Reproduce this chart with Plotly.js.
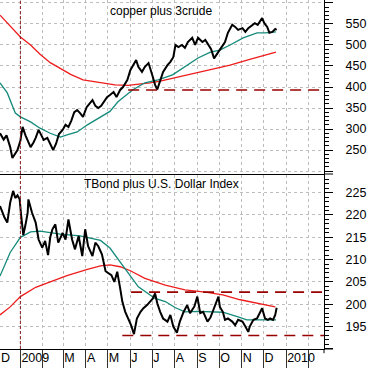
<!DOCTYPE html>
<html><head><meta charset="utf-8">
<script src="https://cdn.plot.ly/plotly-3.0.1.min.js"></script>
<style>html,body{margin:0;padding:0;background:#fff}#chart{width:371px;height:369px}</style>
</head><body><div id="chart"></div>
<script>
// ---- data ----
const topTitle = 'copper plus 3crude';
const bottomTitle = 'TBond plus U.S. Dollar Index';

const topPriceDates = ['2008-12-04','2008-12-09','2008-12-13','2008-12-16','2008-12-18','2008-12-21','2008-12-24','2008-12-28',
 '2009-01-01','2009-01-04','2009-01-08','2009-01-11','2009-01-15','2009-01-19','2009-01-22','2009-01-26','2009-01-30',
 '2009-02-02','2009-02-07','2009-02-11','2009-02-15','2009-02-19','2009-02-23','2009-02-28',
 '2009-03-04','2009-03-08','2009-03-12','2009-03-16','2009-03-20','2009-03-24','2009-03-28',
 '2009-04-02','2009-04-06','2009-04-10','2009-04-14','2009-04-18','2009-04-22','2009-04-26','2009-04-30',
 '2009-05-04','2009-05-09','2009-05-13','2009-05-18','2009-05-22','2009-05-28',
 '2009-06-01','2009-06-05','2009-06-09','2009-06-12','2009-06-17','2009-06-21','2009-06-26',
 '2009-07-01','2009-07-05','2009-07-08','2009-07-12','2009-07-16','2009-07-22','2009-07-26','2009-07-30',
 '2009-08-02','2009-08-06','2009-08-11','2009-08-15','2009-08-19','2009-08-25','2009-08-29',
 '2009-09-02','2009-09-08','2009-09-12','2009-09-16','2009-09-20','2009-09-24','2009-09-30',
 '2009-10-05','2009-10-09','2009-10-13','2009-10-19','2009-10-23','2009-10-27',
 '2009-11-02','2009-11-06','2009-11-10','2009-11-15','2009-11-19','2009-11-23','2009-11-29',
 '2009-12-02','2009-12-06','2009-12-09','2009-12-13','2009-12-17','2009-12-19'];
const topPrice = [290,275,285,268,257,231,240,250,
 272,305,285,274,257,268,279,298,283,
 274,279,265,250,265,288,298,
 310,305,320,340,345,338,329,
 352,362,369,355,350,355,365,376,
 381,388,376,393,400,417,
 440,452,464,448,436,448,457,
 429,405,394,417,436,452,460,471,
 500,495,500,493,507,517,500,
 517,507,512,500,490,468,483,
 495,507,529,548,543,536,
 540,531,540,548,552,548,564,
 552,543,529,531,538,536];

const topFastDates = ['2008-12-04','2008-12-14','2008-12-25','2009-01-01','2009-01-15','2009-01-28','2009-02-11','2009-02-25',
 '2009-03-06','2009-03-20','2009-04-03','2009-04-21','2009-05-04','2009-05-15','2009-06-04','2009-06-21','2009-07-09',
 '2009-07-29','2009-08-15','2009-09-02','2009-09-19','2009-10-02','2009-10-16','2009-11-03','2009-11-22','2009-12-03','2009-12-18'];
const topFast = [410,386,338,329,317,302,290,281,286,293,310,329,342,365,393,410,417,429,448,469,483,488,500,517,529,529,531];

const topSlowDates = ['2008-12-04','2008-12-18','2009-01-01','2009-01-15','2009-01-28','2009-02-11','2009-02-25','2009-03-11',
 '2009-03-28','2009-04-21','2009-05-11','2009-05-29','2009-06-15','2009-06-28','2009-07-12','2009-08-06','2009-09-02',
 '2009-09-19','2009-10-16','2009-11-12','2009-12-18'];
const topSlow = [571,545,519,500,478,458,443,430,417,410,405,404,407,410,414,424,433,440,452,466,483];

const botPriceDates = ['2008-12-04','2008-12-07','2008-12-10','2008-12-14','2008-12-18','2008-12-22','2008-12-25','2008-12-28','2008-12-31',
 '2009-01-02','2009-01-04','2009-01-05','2009-01-08','2009-01-11','2009-01-12','2009-01-15','2009-01-17','2009-01-22','2009-01-26','2009-01-31',
 '2009-02-04','2009-02-08','2009-02-11','2009-02-14','2009-02-18','2009-02-22','2009-02-28',
 '2009-03-04','2009-03-08','2009-03-13','2009-03-17','2009-03-22','2009-03-27','2009-03-31',
 '2009-04-04','2009-04-10','2009-04-14','2009-04-18','2009-04-23','2009-04-28',
 '2009-05-02','2009-05-06','2009-05-10','2009-05-14','2009-05-18','2009-05-21','2009-05-25','2009-05-29',
 '2009-06-02','2009-06-06','2009-06-10','2009-06-15','2009-06-19','2009-06-24','2009-06-28',
 '2009-07-02','2009-07-05','2009-07-08','2009-07-12','2009-07-16','2009-07-22','2009-07-26','2009-07-30',
 '2009-08-04','2009-08-08','2009-08-13','2009-08-18','2009-08-22','2009-08-28',
 '2009-09-01','2009-09-05','2009-09-09','2009-09-15','2009-09-19','2009-09-23','2009-09-27','2009-09-30',
 '2009-10-02','2009-10-06','2009-10-09','2009-10-13','2009-10-19','2009-10-23','2009-10-27',
 '2009-11-02','2009-11-06','2009-11-10','2009-11-12','2009-11-17','2009-11-22','2009-11-26','2009-11-29',
 '2009-12-03','2009-12-07','2009-12-10','2009-12-14','2009-12-17','2009-12-19'];
const botPrice = [222,220.5,219.5,218.3,222.8,225.4,223.8,224.4,223.5,
 220,217.5,215.5,217.8,220.5,223.5,221.5,220.5,218.3,214.5,212.7,
 214.2,211,215,216.8,217.9,213.8,216,
 214.5,219,214.5,212.3,215.3,210.8,216.8,
 213,210.8,213.8,213,211.2,207.4,
 207,206.5,205,207.3,203.6,200.6,198.3,196.8,
 195.3,193.3,196.8,198.3,199.1,199.8,200.6,
 201.3,202.4,200.2,198.3,196.8,196.1,197.6,195,
 193.6,196.1,198.2,199.8,198,199.5,
 201.7,198,198.3,196.1,197,198.7,200.2,201.7,
 199.4,198.3,196.5,196.8,196.1,195.3,196.5,
 196.1,195,193.8,195,196.5,196.8,198.3,199.1,
 196.8,196.5,196.8,196.5,197.6,199.2];

const botFastDates = ['2008-12-04','2008-12-18','2009-01-01','2009-01-15','2009-01-28','2009-02-25','2009-03-24','2009-04-21',
 '2009-05-04','2009-05-25','2009-06-12','2009-07-05','2009-07-19','2009-08-02','2009-08-15','2009-09-02','2009-09-19',
 '2009-10-06','2009-10-26','2009-11-08','2009-11-26','2009-12-18'];
const botFast = [206.3,211.6,215,216.2,216.4,215.7,215.3,214.3,212.6,207.9,203.9,201.3,200.6,199.2,198.3,198.4,198.3,198.2,197.2,196.5,196.5,196.5];

const botSlowDates = ['2008-12-04','2008-12-18','2009-01-01','2009-01-22','2009-02-11','2009-03-06','2009-04-03','2009-04-21',
 '2009-05-04','2009-05-18','2009-06-01','2009-06-21','2009-07-19','2009-08-15','2009-09-12','2009-10-06','2009-10-30',
 '2009-11-22','2009-12-17'];
const botSlow = [197.6,199.4,201.7,203.8,205,206.4,207.8,208.6,208.8,208.4,207.5,205.8,204.3,203.2,202.7,202.1,201,200.2,199.4];

const topSupport = 393, topSupportStart = '2009-05-29';
const botSupport = 193, botSupportStart = '2009-05-21';
const botResist = 202.7, botResistStart = '2009-06-02';
const markerDate = '2009-01-01';

const monthTicks = ['2009-01-01','2009-02-01','2009-03-01','2009-04-01','2009-05-01','2009-06-01',
 '2009-07-01','2009-08-01','2009-09-01','2009-10-01','2009-11-01','2009-12-01','2010-01-01','2010-02-01'];
const monthLabels = ['2009','','M','A','M','J','J','A','S','O','N','D','2010',''];
const firstMonthLabel = 'D';
const topTicks = [200,250,300,350,400,450,500,550,600];
const topTickText = ['','250','300','350','400','450','500','550',''];
const botTicks = [190,195,200,205,210,215,220,225];
const botTickText = ['','195','200','205','210','215','220','225'];

const xRange = ['2008-12-04','2010-02-22'];
const topRange = [193,607];
const botRange = [189.96,228.97];

// ---- chart ----
const FONT = 'Liberation Sans, Arial, sans-serif';
const GRID = '#bdbdbd';
const BLACK = '#000';
const TEAL = '#138a7a';
const RED = '#ee1c1c';
const DRED = '#990000';

const traces = [
  {x: topSlowDates, y: topSlow, xaxis:'x2', yaxis:'y', mode:'lines', line:{color:RED, width:1.3}},
  {x: topFastDates, y: topFast, xaxis:'x2', yaxis:'y', mode:'lines', line:{color:TEAL, width:1.3}},
  {x: topPriceDates, y: topPrice, xaxis:'x2', yaxis:'y', mode:'lines', line:{color:BLACK, width:2}},
  {x: botSlowDates, y: botSlow, xaxis:'x', yaxis:'y2', mode:'lines', line:{color:RED, width:1.3}},
  {x: botFastDates, y: botFast, xaxis:'x', yaxis:'y2', mode:'lines', line:{color:TEAL, width:1.3}},
  {x: botPriceDates, y: botPrice, xaxis:'x', yaxis:'y2', mode:'lines', line:{color:BLACK, width:2}}
];

const yCommon = {
  side:'right', showline:true, linecolor:BLACK, linewidth:1,
  ticks:'outside', ticklen:8, tickcolor:BLACK, tickwidth:1,
  showgrid:true, gridcolor:GRID, griddash:'3px,3px', gridwidth:1,
  tickfont:{family:FONT, size:12.5, color:BLACK},
  ticklabelstandoff:10, zeroline:false, fixedrange:true
};

const layout = {
  width:371, height:369,
  margin:{l:0, r:47, t:0, b:20, pad:0},
  paper_bgcolor:'#fff', plot_bgcolor:'#fff',
  showlegend:false,
  font:{family:FONT, color:BLACK},
  xaxis:{
    type:'date', range:xRange, anchor:'y2', domain:[0,1],
    tickmode:'array', tickvals:monthTicks, ticktext:monthLabels, tickangle:0,
    ticks:'outside', ticklen:18, tickcolor:'#333', tickwidth:1,
    ticklabelposition:'outside right', ticklabelstandoff:-3,
    tickfont:{family:FONT, size:12.5, color:BLACK},
    showgrid:true, gridcolor:GRID, griddash:'3px,3px',
    showline:true, linecolor:BLACK, linewidth:1, zeroline:false
  },
  xaxis2:{
    type:'date', range:xRange, anchor:'y', matches:'x', domain:[0,1],
    tickmode:'array', tickvals:monthTicks, showticklabels:false, ticks:'',
    showgrid:true, gridcolor:GRID, griddash:'3px,3px',
    showline:true, linecolor:BLACK, linewidth:1, zeroline:false
  },
  yaxis: Object.assign({}, yCommon, {
    domain:[0.5014,1], range:topRange, anchor:'x2',
    tickmode:'array', tickvals:topTicks, ticktext:topTickText,
    minor:{tickmode:'linear', tick0:0, dtick:10, ticks:'outside', ticklen:4, tickcolor:BLACK, showgrid:false}
  }),
  yaxis2: Object.assign({}, yCommon, {
    domain:[0,0.4986], range:botRange, anchor:'x',
    tickmode:'array', tickvals:botTicks, ticktext:botTickText,
    minor:{tickmode:'linear', tick0:0, dtick:1, ticks:'outside', ticklen:4, tickcolor:BLACK, showgrid:false}
  }),
  shapes:[
    {type:'line', xref:'x', yref:'paper', x0:markerDate, x1:markerDate, y0:0, y1:1,
     line:{color:'#8b1a1a', width:1, dash:'3px,2px'}},
    {type:'line', xref:'x2', yref:'y', x0:topSupportStart, x1:xRange[1], y0:topSupport, y1:topSupport,
     line:{color:DRED, width:1.6, dash:'11px,7px'}},
    {type:'line', xref:'x', yref:'y2', x0:botSupportStart, x1:xRange[1], y0:botSupport, y1:botSupport,
     line:{color:DRED, width:1.6, dash:'11px,7px'}},
    {type:'line', xref:'x', yref:'y2', x0:botResistStart, x1:xRange[1], y0:botResist, y1:botResist,
     line:{color:DRED, width:1.6, dash:'11px,7px'}},
    {type:'line', xref:'paper', yref:'paper', x0:1, x1:1.028, y0:0.5014, y1:0.5014, line:{color:BLACK, width:1}},
    {type:'line', xref:'paper', yref:'paper', x0:1, x1:1.028, y0:0, y1:0, line:{color:BLACK, width:1}},
    {type:'line', xref:'paper', yref:'paper', x0:1, x1:1, y0:0, y1:-0.012, line:{color:BLACK, width:1}}
  ],
  annotations:[
    {text:topTitle, xref:'paper', yref:'paper', x:0.498, y:0.968, xanchor:'center', yanchor:'middle',
     showarrow:false, font:{family:FONT, size:12, color:'#000'}},
    {text:bottomTitle, xref:'paper', yref:'paper', x:0.498, y:0.4727, xanchor:'center', yanchor:'middle',
     showarrow:false, font:{family:FONT, size:12, color:'#000'}},
    {text:firstMonthLabel, xref:'paper', yref:'paper', x:0, y:-0.026, xanchor:'left', yanchor:'middle',
     showarrow:false, xshift:-1, font:{family:FONT, size:12.5, color:'#000'}}
  ]
};

Plotly.newPlot('chart', traces, layout, {staticPlot:true, displayModeBar:false});
</script>
</body></html>
